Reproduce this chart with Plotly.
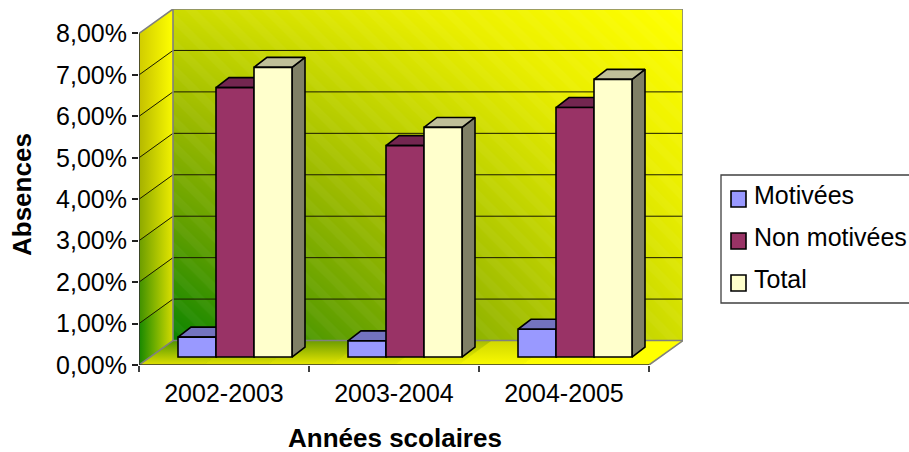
import plotly.graph_objects as go

# ---- data ----
categories = ["2002-2003", "2003-2004", "2004-2005"]
motivees = [0.0048, 0.0039, 0.0067]
non_motivees = [0.0650, 0.0510, 0.0602]
total = [0.0699, 0.0554, 0.0670]
series_names = ["Motivées", "Non motivées", "Total"]
y_ticks = [i / 100 for i in range(9)]

# ---- styles ----
front_cols = ["#9999FF", "#993366", "#FFFFCC"]
top_cols = ["#7373BF", "#732650", "#BFBF99"]
side_cols = ["#5C5C99", "#5C1F3D", "#808066"]
FONT = "Liberation Sans"
TXT = 25

# geometry of the projection (axis units)
UX, UY = 170.0, 4150.0             # pixels per group, pixels per 100 %
WALL_DX, WALL_DY = 34 / UX, 24.5 / UY
BAR_DX, BAR_DY = 11 / UX, 8 / UY
DEPTH_DX, DEPTH_DY = 13 / UX, 10 / UY
BAR_FRAC = 114 / 170
YMAX = 0.08
XMAX = 3 + WALL_DX
YTOP = YMAX + WALL_DY

PLOT_L, PLOT_B, PLOT_W, PLOT_H = 139, 365, 544, 356


def px(x):
    return (x - PLOT_L) / PLOT_W


def py(y):
    return (PLOT_B - y) / PLOT_H


fig = go.Figure()

# back wall gradient
fig.add_trace(go.Heatmap(
    x=[WALL_DX, XMAX], y=[WALL_DY, YTOP], z=[[0.0, 0.74], [0.72, 1.0]],
    zmin=0, zmax=1, zsmooth="best", showscale=False, hoverinfo="skip",
    colorscale=[[0, "#0A8400"], [0.25, "#5E9E00"], [0.5, "#9CBA00"], [0.7, "#C8D800"], [0.85, "#EAEE00"], [1, "#FFFF00"]],
))
# white masks outside the wall
for mx, my in [([0, WALL_DX, 0, 0], [YMAX, YTOP, YTOP, YMAX]),
               ([3, XMAX, XMAX, 3], [0, WALL_DY, 0, 0])]:
    fig.add_trace(go.Scatter(x=mx, y=my, mode="none", fill="toself", fillcolor="white",
                             hoverinfo="skip", showlegend=False))
# hatching on the wall
fig.add_trace(go.Scatter(
    x=[WALL_DX, XMAX, XMAX, WALL_DX, WALL_DX], y=[WALL_DY, WALL_DY, YTOP, YTOP, WALL_DY],
    mode="none", fill="toself", fillcolor="rgba(0,0,0,0)", hoverinfo="skip", showlegend=False,
    fillpattern=dict(shape="\\", fgcolor="rgba(255,255,255,0.07)", bgcolor="rgba(0,0,0,0)", size=18, solidity=0.45),
))

# side wall
side_left = ["#168800", "#3E9000", "#6A9C00", "#8CA800", "#A4B000", "#B4B800", "#C4C000", "#D0CC00"]
side_right = ["#D4DA00", "#DCE000", "#E4E600", "#ECEC00", "#F2F200", "#F8F800", "#FCFC00", "#FFFF00"]
for k in range(8):
    lo, hi = y_ticks[k], y_ticks[k + 1]
    fig.add_trace(go.Scatter(
        x=[0, WALL_DX, WALL_DX, 0, 0], y=[lo, lo + WALL_DY, hi + WALL_DY, hi, lo],
        mode="lines", line=dict(width=0), fill="toself", hoverinfo="skip", showlegend=False, cliponaxis=False,
        fillgradient=dict(type="horizontal", colorscale=[[0, side_left[k]], [1, side_right[k]]]),
    ))

# floor
floor_back = ["#4E9400", "#5E9800", "#6C9C00", "#80A400", "#A8BC00", "#D0D800", "#ECEC00", "#FFFF00"]
floor_front = ["#E0E000", "#E4E400", "#E8E800", "#ECEC00", "#F4F400", "#FAFA00", "#FFFF00", "#FFFF00"]
for k in range(8):
    a, b = 3 * k / 8, 3 * (k + 1) / 8 + 0.004
    fig.add_trace(go.Scatter(
        x=[a, b, b + WALL_DX, a + WALL_DX, a], y=[0, 0, WALL_DY, WALL_DY, 0],
        mode="lines", line=dict(width=0), fill="toself", hoverinfo="skip", showlegend=False, cliponaxis=False,
        fillgradient=dict(type="vertical", colorscale=[[0, floor_front[k]], [1, floor_back[k]]]),
    ))

# gridlines
gx, gy = [], []
for t in y_ticks[1:-1]:
    gx += [0, WALL_DX, XMAX, None]
    gy += [t, t + WALL_DY, t + WALL_DY, None]
fig.add_trace(go.Scatter(x=gx, y=gy, mode="lines", line=dict(color="#1A1A00", width=1),
                         hoverinfo="skip", showlegend=False, cliponaxis=False))
# wall borders
fig.add_trace(go.Scatter(
    x=[0, WALL_DX, XMAX, XMAX, WALL_DX, WALL_DX, None, WALL_DX, 0, None, XMAX, 3],
    y=[YMAX, YTOP, YTOP, WALL_DY, WALL_DY, YTOP, None, WALL_DY, 0, None, WALL_DY, 0],
    mode="lines", line=dict(color="#808080", width=1.6), hoverinfo="skip", showlegend=False, cliponaxis=False))
# axis lines
fig.add_trace(go.Scatter(x=[0, 0, 3], y=[YMAX, 0, 0], mode="lines", line=dict(color="#303030", width=1.6),
                         hoverinfo="skip", showlegend=False, cliponaxis=False))

# top and side faces of the bars
bar_w = BAR_FRAC / 3
for s, vals in enumerate([motivees, non_motivees, total]):
    for g, v in enumerate(vals):
        x0 = g + BAR_DX + (1 - BAR_FRAC) / 2 + s * bar_w
        x1 = x0 + bar_w
        yb, yt = BAR_DY, BAR_DY + v
        fig.add_trace(go.Scatter(
            x=[x1, x1 + DEPTH_DX, x1 + DEPTH_DX, x1, x1], y=[yb, yb + DEPTH_DY, yt + DEPTH_DY, yt, yb],
            mode="lines", line=dict(color="black", width=1.6), fill="toself", fillcolor=side_cols[s],
            hoverinfo="skip", showlegend=False, cliponaxis=False))
        fig.add_trace(go.Scatter(
            x=[x0, x1, x1 + DEPTH_DX, x0 + DEPTH_DX, x0], y=[yt, yt, yt + DEPTH_DY, yt + DEPTH_DY, yt],
            mode="lines", line=dict(color="black", width=1.6), fill="toself", fillcolor=top_cols[s],
            hoverinfo="skip", showlegend=False, cliponaxis=False))

# front faces
for s, vals in enumerate([motivees, non_motivees, total]):
    fig.add_trace(go.Bar(
        x=categories, y=vals, name=series_names[s], xaxis="x2", yaxis="y2",
        marker=dict(color=front_cols[s], line=dict(color="black", width=1.6)),
        cliponaxis=False, showlegend=False,
    ))

# legend box, swatches and labels (window pixels)
shapes = [dict(type="path", xref="paper", yref="paper",
               path=f"M {px(915)} {py(175)} L {px(721)} {py(175)} L {px(721)} {py(303)} L {px(915)} {py(303)}",
               line=dict(color="#404040", width=1.3), fillcolor="white", layer="above")]
annotations = []
for name, col, yc in zip(series_names, front_cols, [195, 237, 279]):
    shapes.append(dict(type="rect", xref="paper", yref="paper", x0=px(731), x1=px(746), y0=py(yc - 4), y1=py(yc + 12),
                       fillcolor=col, line=dict(color="black", width=1.6), layer="above"))
    annotations.append(dict(text=name, x=px(752), y=py(yc), xref="paper", yref="paper", xanchor="left", yanchor="middle",
                            showarrow=False, font=dict(size=TXT)))
annotations.append(dict(text="<b>Absences</b>", x=px(22), y=py(195), xref="paper", yref="paper",
                        xanchor="center", yanchor="middle",
                        showarrow=False, textangle=-90, font=dict(size=26)))
annotations.append(dict(text="<b>Années scolaires</b>", x=px(395), y=py(438), xref="paper", yref="paper",
                        xanchor="center", yanchor="middle",
                        showarrow=False, font=dict(size=26)))

fig.update_layout(
    width=909, height=452,
    margin=dict(l=PLOT_L, r=909 - (PLOT_L + PLOT_W), t=9, b=452 - PLOT_B, pad=0, autoexpand=False),
    paper_bgcolor="white", plot_bgcolor="rgba(0,0,0,0)",
    separators=", ",
    barmode="group", bargap=1 - BAR_FRAC, bargroupgap=0,
    font=dict(family=FONT, size=TXT, color="black"),
    xaxis=dict(range=[0, XMAX], tickvals=[0.5, 1.5, 2.5], ticktext=categories, ticks="",
               showgrid=False, zeroline=False, showline=False, ticklabelstandoff=11,
               minor=dict(tickvals=[0, 1, 2, 3], ticks="outside", ticklen=6, tickcolor="#404040", tickwidth=1.5, showgrid=False),
               tickfont=dict(size=TXT)),
    yaxis=dict(range=[0, YTOP], tickvals=y_ticks, tickformat=".2%", ticks="outside", ticklen=6,
               tickcolor="#202020", tickwidth=1.5, showgrid=False, zeroline=False, showline=False,
               tickfont=dict(size=TXT)),
    xaxis2=dict(overlaying="x", anchor="y2", type="category", categoryorder="array", categoryarray=categories,
                range=[(139 - 235) / UX, (683 - 235) / UX], visible=False),
    yaxis2=dict(overlaying="y", anchor="x2", range=[-BAR_DY, YTOP - BAR_DY], visible=False),
    showlegend=False,
    shapes=shapes,
    annotations=annotations,
)

fig.write_html("out.html", config={"displayModeBar": False},
               post_script="document.documentElement.style.margin='0';document.body.style.margin='0';")
